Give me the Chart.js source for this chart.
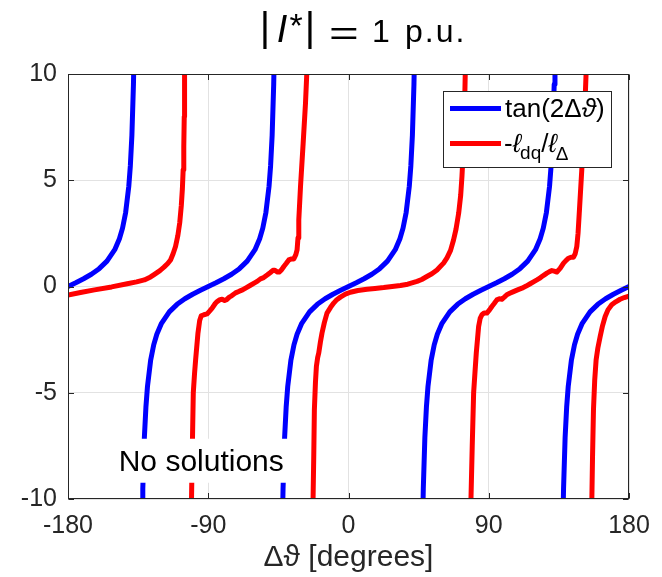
<!DOCTYPE html>
<html><head><meta charset="utf-8">
<script src="https://cdn.jsdelivr.net/npm/chart.js@4/dist/chart.umd.min.js"></script>
<style>html,body{margin:0;padding:0;background:#fff;}</style>
</head><body>
<canvas id="c" width="662" height="577"></canvas>
<script>
// ---- data ----
const xTicks = [-180, -90, 0, 90, 180];
const yTicks = [-10, -5, 0, 5, 10];
const xRange = [-180, 180];
const yRange = [-10, 10];

const blueLabel = 'tan(2Δϑ)';
const blueX = [
  -180,-175,-170,-165,-160,-155,-150,-147,-145,-143,-141,-140,-139,-138,-137.5, null,
  -132.5,-132,-131,-130,-129,-127,-125,-123,-120,-115,-110,-105,-100,-95,-90,-85,-80,-75,-70,-65,-60,-57,-55,-53,-51,-50,-49,-48,-47.5, null,
  -42.5,-42,-41,-40,-39,-37,-35,-33,-30,-25,-20,-15,-10,-5,0,5,10,15,20,25,30,33,35,37,39,40,41,42,42.5, null,
  47.5,48,49,50,51,53,55,57,60,65,70,75,80,85,90,95,100,105,110,115,120,123,125,127,129,130,131,132,132.5, null,
  137.5,138,139,140,141,143,145,147,150,155,160,165,170,175,180
];
const blueY = [
  0,0.176,0.364,0.577,0.839,1.192,1.732,2.246,2.747,3.487,4.705,5.671,7.115,9.514,11.43, null,
  -11.43,-9.514,-7.115,-5.671,-4.705,-3.487,-2.747,-2.246,-1.732,-1.192,-0.839,-0.577,-0.364,-0.176,0,0.176,0.364,0.577,0.839,1.192,1.732,2.246,2.747,3.487,4.705,5.671,7.115,9.514,11.43, null,
  -11.43,-9.514,-7.115,-5.671,-4.705,-3.487,-2.747,-2.246,-1.732,-1.192,-0.839,-0.577,-0.364,-0.176,0,0.176,0.364,0.577,0.839,1.192,1.732,2.246,2.747,3.487,4.705,5.671,7.115,9.514,11.43, null,
  -11.43,-9.514,-7.115,-5.671,-4.705,-3.487,-2.747,-2.246,-1.732,-1.192,-0.839,-0.577,-0.364,-0.176,0,0.176,0.364,0.577,0.839,1.192,1.732,2.246,2.747,3.487,4.705,5.671,7.115,9.514,11.43, null,
  -11.43,-9.514,-7.115,-5.671,-4.705,-3.487,-2.747,-2.246,-1.732,-1.192,-0.839,-0.577,-0.364,-0.176,0
];

const redLabel = '-ℓdq/ℓΔ';
const redX = [
  -180,-172,-163,-152,-142,-136,-131,-127,-125,-121,-118.4,-116,-114.2,-112.5,-111,-109.5,-108.3,-107.3,-106.6,-106.1,-105.7,-105.4,-105.2, null,
  -100.8,-100.2,-99.6,-98.8,-98.1,-96.6,-95.5,-94.5,-92.8,-90.7,-89,-87.5,-85.5,-84.3,-82.5,-81.1,-79.5,-78.2,-76.5,-75,-72.5,-70,-68,-65.5,-62.9,-60,-58.6,-56.5,-54.4,-52,-50.1,-48.5,-47.2,-45.5,-44.5,-43,-41.5,-40,-38.3,-36.5,-35.1,-33.8,-33,-32.4,-31.9,-30.8,-29.1,-27.6,-26.6, null,
  -22.8,-22.3,-21.9,-21.2,-20.6,-19.8,-19.1,-18,-17,-15.5,-13.8,-11.5,-9.5,-7.5,-5.2,-2,1.2,6,11.9,17,22.6,28,33.3,38,44,47,50.3,53.5,56.8,58.9,61,63.2,65.5,67.4,69,70.7,72,72.8,73.9,74.5,75, null,
  78.5,79.4,80.3,81.2,82,83.5,84.5,85.6,87,88.8,90.5,92,93.5,95.2,96.8,98.4,100,101.6,103.5,105.9,108.5,111.3,114,116.6,118.7,120.9,122.5,124.1,125.7,127.3,129,130.5,132,133.7,135.8,138,139.5,141.2,142.8,144.4,145.5,146.5,147.3,148.2,149.7,151.2,152.6, null,
  156.1,156.6,157.2,158,158.9,160,161.5,163,164.7,166.5,168.9,171.5,174.3,177,180
];
const redY = [
  -0.40,-0.28,-0.16,-0.02,0.13,0.22,0.31,0.45,0.55,0.75,0.91,1.08,1.25,1.55,1.88,2.4,3.0,3.8,4.6,5.5,6.6,8.0,10.3, null,
  -10.3,-7.5,-5,-4.1,-3.45,-2.19,-1.6,-1.38,-1.33,-1.29,-1.15,-1.02,-0.8,-0.71,-0.62,-0.6,-0.66,-0.62,-0.5,-0.44,-0.3,-0.22,-0.16,-0.05,0.06,0.18,0.24,0.36,0.42,0.55,0.66,0.76,0.76,0.68,0.68,0.78,0.94,1.08,1.25,1.3,1.3,1.5,1.72,2.3,3.13,4.7,6.74,8.62,10.3, null,
  -10.3,-8,-5.8,-4.5,-3.76,-3.35,-3.13,-2.6,-2.19,-1.7,-1.25,-0.98,-0.78,-0.62,-0.5,-0.36,-0.27,-0.19,-0.13,-0.09,-0.05,0,0.05,0.11,0.24,0.33,0.47,0.6,0.78,0.94,1.1,1.35,1.7,2.19,2.7,3.45,4.3,5.17,6.74,8.5,10.3, null,
  -10.3,-7.5,-5,-4,-3.13,-1.88,-1.5,-1.33,-1.25,-1.25,-1.1,-0.94,-0.8,-0.63,-0.58,-0.6,-0.5,-0.39,-0.32,-0.24,-0.16,-0.08,0.02,0.13,0.22,0.31,0.38,0.47,0.55,0.63,0.7,0.75,0.72,0.68,0.85,1.1,1.22,1.33,1.38,1.38,1.55,1.88,2.5,3.6,5.49,7.52,10.3, null,
  -10.3,-8,-5.8,-4.4,-3.45,-2.9,-2.35,-1.85,-1.41,-1.1,-0.86,-0.72,-0.6,-0.52,-0.45
];

const annotationText = 'No solutions';
const annotationAt = [-94.5, -8.2];   // data position of the annotation centre

// ---- rendering ----
const SANS = "'Liberation Sans', Arial, 'DejaVu Sans', sans-serif";
const AXC = '#262626';

function pts(xs, ys) { return xs.map((x, i) => ({ x: x, y: ys[i] })); }

const decor = {
  id: 'decor',
  beforeDraw(chart) {
    const c = chart.ctx;
    c.save(); c.fillStyle = '#fff'; c.fillRect(0, 0, chart.width, chart.height); c.restore();
  },
  afterDatasetsDraw(chart) {
    const c = chart.ctx, a = chart.chartArea;
    const xs = chart.scales.x, ys = chart.scales.y;
    c.save();
    // "No solutions" with white background
    const cx = xs.getPixelForValue(annotationAt[0]);
    const cy = ys.getPixelForValue(annotationAt[1]);
    c.font = '30px ' + SANS;
    const w = c.measureText(annotationText).width;
    c.fillStyle = '#fff';
    c.fillRect(cx - w / 2 - 6, cy - 22, w + 12, 44);
    c.fillStyle = '#000'; c.textAlign = 'center'; c.textBaseline = 'alphabetic';
    c.fillText(annotationText, cx, cy + 10.5);

    // axes box
    c.strokeStyle = AXC; c.lineWidth = 1;
    const L = Math.round(a.left) + 0.5, R = Math.round(a.right) - 0.5,
          T = Math.round(a.top) + 0.5, B = Math.round(a.bottom) - 0.5;
    c.strokeRect(L, T, R - L, B - T);
    // inward ticks
    c.beginPath();
    xTicks.forEach(v => {
      const p = Math.round(xs.getPixelForValue(v)) + 0.5;
      c.moveTo(p, B); c.lineTo(p, B - 5.5);
      c.moveTo(p, T); c.lineTo(p, T + 5.5);
    });
    yTicks.forEach(v => {
      const p = Math.round(ys.getPixelForValue(v)) + 0.5;
      c.moveTo(L, p); c.lineTo(L + 5.5, p);
      c.moveTo(R, p); c.lineTo(R - 5.5, p);
    });
    c.stroke();

    // legend
    const ds = chart.data.datasets;
    const bx = 443.5, by = 91.5, bw = 168, bh = 76;
    c.fillStyle = '#fff'; c.fillRect(bx, by, bw, bh);
    c.strokeStyle = AXC; c.lineWidth = 1; c.strokeRect(bx, by, bw, bh);
    const rows = [108.5, 143.5];
    ds.forEach((d, i) => {
      c.strokeStyle = d.borderColor; c.lineWidth = 5; c.lineCap = 'butt';
      c.beginPath(); c.moveTo(450, rows[i]); c.lineTo(501, rows[i]); c.stroke();
    });
    c.fillStyle = '#000'; c.textAlign = 'left'; c.textBaseline = 'alphabetic';
    let x = 505;
    const seg = (t, font, y) => { c.font = font; c.fillText(t, x, y); x += c.measureText(t).width; };
    // row 1: tan(2Δϑ)
    seg('tan(2Δ', '26px ' + SANS, 117);
    seg('ϑ', 'italic 26px ' + SANS, 117);
    seg(')', '26px ' + SANS, 117);
    // row 2: -ℓ_dq/ℓ_Δ
    x = 504;
    seg('-', '26px ' + SANS, 152);
    seg('ℓ', 'italic 26px ' + SANS, 152);
    x -= 1;
    seg('dq', '19px ' + SANS, 159);
    seg('/', '26px ' + SANS, 152);
    seg('ℓ', 'italic 26px ' + SANS, 152);
    x -= 1;
    seg('Δ', '19px ' + SANS, 160);
    c.restore();
  },
  afterDraw(chart) {
    // title |I*| = 1 p.u.
    const c = chart.ctx;
    c.save();
    c.fillStyle = '#000'; c.textBaseline = 'alphabetic'; c.textAlign = 'center';
    c.font = '40px ' + SANS; c.fillText('|', 265, 41);
    c.font = 'italic 38px ' + SANS; c.fillText('I', 282, 41.5);
    c.font = '34px ' + SANS; c.fillText('*', 296, 37);
    c.font = '40px ' + SANS; c.fillText('|', 310, 41);
    c.save(); c.translate(344, 45); c.scale(1.5, 1);
    c.font = '34px ' + SANS; c.fillText('=', 0, 0); c.restore();
    c.font = '32px ' + SANS; c.fillText('1', 381, 41.5);
    c.textAlign = 'left';
    if ('letterSpacing' in c) c.letterSpacing = '2px';
    c.font = '32px ' + SANS; c.fillText('p.u.', 405, 41.5);
    c.restore();
  }
};

new Chart(document.getElementById('c'), {
  type: 'scatter',
  data: {
    datasets: [
      { label: blueLabel, data: pts(blueX, blueY), borderColor: '#0000ff', backgroundColor: '#0000ff',
        borderWidth: 5, showLine: true, pointRadius: 0, tension: 0, clip: 0, spanGaps: false, borderJoinStyle: 'round' },
      { label: redLabel, data: pts(redX, redY), borderColor: '#ff0000', backgroundColor: '#ff0000',
        borderWidth: 5, showLine: true, pointRadius: 0, tension: 0, clip: 0, spanGaps: false, borderJoinStyle: 'round' }
    ]
  },
  options: {
    responsive: false, animation: false, events: [],
    devicePixelRatio: 1,
    layout: { padding: { left: 0, top: 74, right: 33, bottom: 0 } },
    plugins: { legend: { display: false }, tooltip: { enabled: false }, title: { display: false } },
    scales: {
      x: {
        type: 'linear', min: xRange[0], max: xRange[1],
        afterFit: s => { s.height = 78; },
        afterBuildTicks: s => { s.ticks = xTicks.map(v => ({ value: v })); },
        grid: { color: '#e2e2e2', lineWidth: 1, drawTicks: false },
        border: { display: false },
        ticks: { color: AXC, font: { family: SANS, size: 25 }, padding: 12, maxRotation: 0, autoSkip: false },
        title: { display: true, text: 'Δϑ [degrees]', color: AXC, font: { family: SANS, size: 30 }, padding: { top: 0, bottom: 1 } }
      },
      y: {
        type: 'linear', min: yRange[0], max: yRange[1],
        afterFit: s => { s.width = 68; },
        afterBuildTicks: s => { s.ticks = yTicks.map(v => ({ value: v })); },
        grid: { color: '#e2e2e2', lineWidth: 1, drawTicks: false },
        border: { display: false },
        ticks: { color: AXC, font: { family: SANS, size: 25 }, padding: 11, autoSkip: false }
      }
    }
  },
  plugins: [decor]
});
</script>
</body></html>
